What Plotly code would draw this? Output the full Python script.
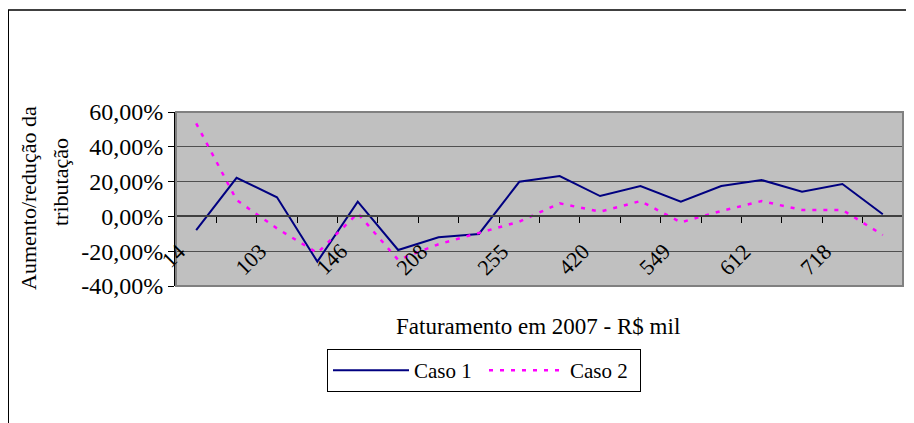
import plotly.graph_objects as go

# Category positions (18 categories; only every other one is labelled in the source)
n_cat = 18
category_labels = ["14", "", "103", "", "146", "", "208", "", "255", "",
                   "420", "", "549", "", "612", "", "718", ""]

caso1 = [-7.9, 22.2, 11.0, -26.0, 8.5, -19.3, -12.0, -10.1, 19.9, 23.2,
         11.7, 17.5, 8.5, 17.5, 20.9, 14.2, 18.6, 1.2]
caso2 = [53.5, 9.4, -6.9, -21.0, 1.8, -25.0, -16.0, -9.7, -3.0, 7.5,
         2.7, 8.8, -3.4, 3.1, 8.8, 3.7, 3.7, -10.7]

y_tickvals = [-40, -20, 0, 20, 40, 60]
y_ticktext = ["-40,00%", "-20,00%", "0,00%", "20,00%", "40,00%", "60,00%"]

FONT = "Liberation Serif"
OFF = 8  # page body margin offset
W, H = 914 - OFF, 423 - OFF
ML, MT = 176 - OFF, 112 - OFF
PW, PH = 727, 174
MR = W - ML - PW
MB = H - MT - PH

def px_x(p):
    return (p - OFF - ML) / PW

def px_y(p):
    return (MT + PH - (p - OFF)) / PH

x = list(range(n_cat))

fig = go.Figure()
fig.add_trace(go.Scatter(x=x, y=caso1, mode="lines", name="Caso 1",
                         line=dict(color="#000080", width=2)))
fig.add_trace(go.Scatter(x=x, y=caso2, mode="lines", name="Caso 2",
                         line=dict(color="#FF00FF", width=2.5, dash="4px,7px")))

annotations = []
for i, lab in enumerate(category_labels):
    if not lab:
        continue
    w = len(lab) * 11
    off = 0.707 * w / 2
    annotations.append(dict(x=i, y=0, xref="x", yref="y", text=lab, showarrow=False,
                            textangle=-45, xanchor="center", yanchor="middle",
                            xshift=-15 - off, yshift=-(31 + off),
                            font=dict(family=FONT, size=22, color="black")))

annotations.append(dict(x=px_x(538), y=px_y(326), xref="paper", yref="paper",
                        text="Faturamento em 2007 - R$ mil", showarrow=False,
                        xanchor="center", yanchor="middle",
                        font=dict(family=FONT, size=23, color="black")))
annotations.append(dict(x=px_x(28), y=px_y(198), xref="paper", yref="paper",
                        text="Aumento/redução da", showarrow=False, textangle=-90,
                        xanchor="center", yanchor="middle",
                        font=dict(family=FONT, size=22, color="black")))
annotations.append(dict(x=px_x(60), y=px_y(182), xref="paper", yref="paper",
                        text="tributação", showarrow=False, textangle=-90,
                        xanchor="center", yanchor="middle",
                        font=dict(family=FONT, size=22, color="black")))

shapes = [
    dict(type="rect", xref="paper", yref="paper", x0=0, x1=1, y0=0, y1=1,
         line=dict(color="#808080", width=2), layer="above"),
    dict(type="line", xref="paper", yref="paper", x0=px_x(8), x1=px_x(914),
         y0=px_y(10), y1=px_y(10), line=dict(color="#404040", width=2)),
    dict(type="line", xref="paper", yref="paper", x0=px_x(8), x1=px_x(8),
         y0=px_y(10), y1=px_y(423), line=dict(color="black", width=2)),
]

fig.update_layout(
    width=W, height=H,
    margin=dict(l=ML, r=MR, t=MT, b=MB, pad=0),
    paper_bgcolor="white", plot_bgcolor="#C0C0C0",
    font=dict(family=FONT, size=21, color="black"),
    showlegend=True,
    legend=dict(orientation="h", x=px_x(484), xanchor="center",
                y=px_y(349), yanchor="top", bgcolor="white",
                bordercolor="black", borderwidth=1,
                font=dict(family=FONT, size=21, color="black"),
                itemwidth=76, entrywidth=65, entrywidthmode="pixels"),
    xaxis=dict(range=[-0.5, n_cat - 0.5], anchor="free", position=0.4,
               showline=True, linecolor="#404040", linewidth=2,
               ticks="outside", ticklen=6, tickcolor="black", tickwidth=1,
               tickvals=[i + 0.5 for i in range(n_cat)],
               showticklabels=False, showgrid=False, zeroline=False),
    yaxis=dict(range=[-40, 60], tickvals=y_tickvals, ticktext=y_ticktext,
               showline=True, linecolor="black", linewidth=2,
               ticks="outside", ticklen=6, tickcolor="black", tickwidth=1,
               showgrid=True, gridcolor="#505050", gridwidth=1,
               zeroline=False, tickfont=dict(family=FONT, size=24, color="black")),
    annotations=annotations,
    shapes=shapes,
)

fig.write_html("out.html")
